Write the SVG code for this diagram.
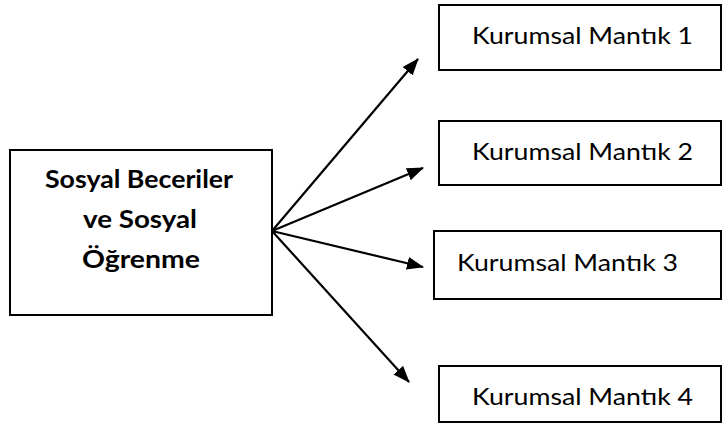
<svg xmlns="http://www.w3.org/2000/svg" width="722" height="432" viewBox="0 0 722 432">
  <style>
    .box { fill: #ffffff; stroke: #000000; stroke-width: 2; }
    .edge { stroke: #000000; stroke-width: 2.2; fill: none; marker-end: url(#arrow); }
    .label { font-family: Lato, "Liberation Sans", Arial, sans-serif; font-size: 23px; fill: #000000; }
    .title { font-family: Lato, "Liberation Sans", Arial, sans-serif; font-size: 24px; font-weight: bold; fill: #000000; text-anchor: middle; }
  </style>
  <defs>
    <marker id="arrow" markerUnits="userSpaceOnUse" markerWidth="18" markerHeight="14" refX="16" refY="6.5" orient="auto">
      <path d="M0,0 L17,6.5 L0,13 z" fill="#000000"/>
    </marker>
  </defs>
  <rect width="722" height="432" fill="#ffffff"/>

  <g id="source">
    <rect class="box" x="10" y="150" width="262" height="165"/>
    <text class="title" x="139" y="188" textLength="188" lengthAdjust="spacingAndGlyphs">Sosyal Beceriler</text>
    <text class="title" x="140" y="228" textLength="114" lengthAdjust="spacingAndGlyphs">ve Sosyal</text>
    <text class="title" x="141" y="268" textLength="118" lengthAdjust="spacingAndGlyphs">Öğrenme</text>
  </g>

  <g id="logic1">
    <rect class="box" x="439" y="5" width="282" height="65"/>
    <text class="label" x="472" y="44" textLength="221" lengthAdjust="spacingAndGlyphs">Kurumsal Mantık 1</text>
  </g>

  <g id="logic2">
    <rect class="box" x="439" y="121" width="282" height="64"/>
    <text class="label" x="472" y="160" textLength="221" lengthAdjust="spacingAndGlyphs">Kurumsal Mantık 2</text>
  </g>

  <g id="logic3">
    <rect class="box" x="434" y="231" width="287" height="68"/>
    <text class="label" x="457" y="271" textLength="221" lengthAdjust="spacingAndGlyphs">Kurumsal Mantık 3</text>
  </g>

  <g id="logic4">
    <rect class="box" x="439" y="366" width="282" height="56"/>
    <text class="label" x="472" y="405" textLength="221" lengthAdjust="spacingAndGlyphs">Kurumsal Mantık 4</text>
  </g>

  <g id="connectors">
    <line class="edge" x1="272" y1="231" x2="418" y2="59"/>
    <line class="edge" x1="272" y1="231" x2="423" y2="168"/>
    <line class="edge" x1="272" y1="231" x2="423" y2="267"/>
    <line class="edge" x1="272" y1="231" x2="409" y2="382"/>
  </g>
</svg>
